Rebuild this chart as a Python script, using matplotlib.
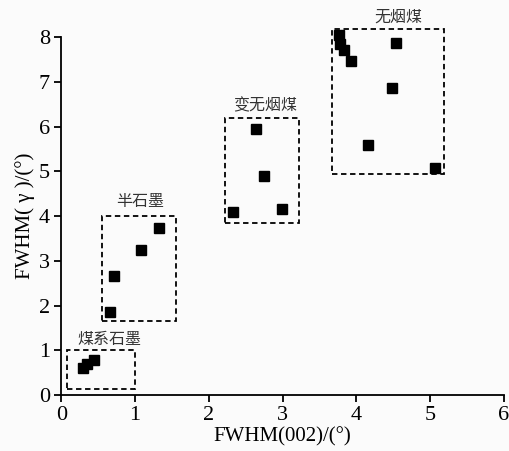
import matplotlib
matplotlib.use("Agg")
import matplotlib.pyplot as plt
from matplotlib.patches import Rectangle

# data
coal_graphite_x = [0.30, 0.35, 0.45]
coal_graphite_y = [0.60, 0.69, 0.78]
semi_graphite_x = [0.66, 0.72, 1.08, 1.33]
semi_graphite_y = [1.85, 2.67, 3.23, 3.74]
meta_anthracite_x = [2.33, 2.64, 2.75, 2.99]
meta_anthracite_y = [4.10, 5.94, 4.90, 4.16]
anthracite_x = [3.77, 3.78, 3.83, 3.93, 4.54, 4.48, 4.16, 5.07]
anthracite_y = [8.04, 7.84, 7.71, 7.46, 7.87, 6.85, 5.59, 5.08]

group_names = ["煤系石墨", "半石墨", "变无烟煤", "无烟煤"]
# boxes: (x0, y0, x1, y1)
group_boxes = [(0.08, 0.13, 1.00, 1.00),
               (0.55, 1.65, 1.56, 4.00),
               (2.22, 3.85, 3.22, 6.18),
               (3.67, 4.95, 5.19, 8.17)]
label_pos = [(0.65, 1.25), (1.07, 4.32), (2.76, 6.46), (4.57, 8.45)]

serif = ["Liberation Serif", "DejaVu Serif"]
cjk = ["Noto Sans CJK SC", "DejaVu Sans"]

fig = plt.figure(figsize=(5.1, 4.51), dpi=100, facecolor="#fbfbfb")
ax = fig.add_axes([0.12, 0.124, 0.868, 0.794], facecolor="#fbfbfb")

for xs, ys in [(coal_graphite_x, coal_graphite_y), (semi_graphite_x, semi_graphite_y),
               (meta_anthracite_x, meta_anthracite_y), (anthracite_x, anthracite_y)]:
    ax.plot(xs, ys, "s", color="black", ms=7.5, clip_on=False, zorder=3)

for (x0, y0, x1, y1), name, (lx, ly) in zip(group_boxes, group_names, label_pos):
    ax.add_patch(Rectangle((x0, y0), x1 - x0, y1 - y0, fill=False, ec="black",
                           lw=1.3, ls=(0, (3, 2)), clip_on=False))
    ax.text(lx, ly, name, ha="center", va="center", fontsize=11.5,
            family=cjk, color="#333333", fontweight="light")

ax.set_xlim(0, 6)
ax.set_ylim(0, 8)
ax.set_xticks(range(0, 7))
ax.set_yticks(range(0, 9))
ax.spines["top"].set_visible(False)
ax.spines["right"].set_visible(False)
for s in ["left", "bottom"]:
    ax.spines[s].set_linewidth(1.3)
ax.tick_params(direction="out", length=5, width=1.3, labelsize=16, pad=3)
for lab in ax.get_xticklabels() + ax.get_yticklabels():
    lab.set_family(serif)

ax.set_xlabel("FWHM(002)/(°)", fontsize=15, family=serif, labelpad=1)
ax.set_ylabel("FWHM( γ )/(°)", fontsize=15, family=serif, labelpad=3)

fig.savefig("out.png", dpi=100, facecolor=fig.get_facecolor())
